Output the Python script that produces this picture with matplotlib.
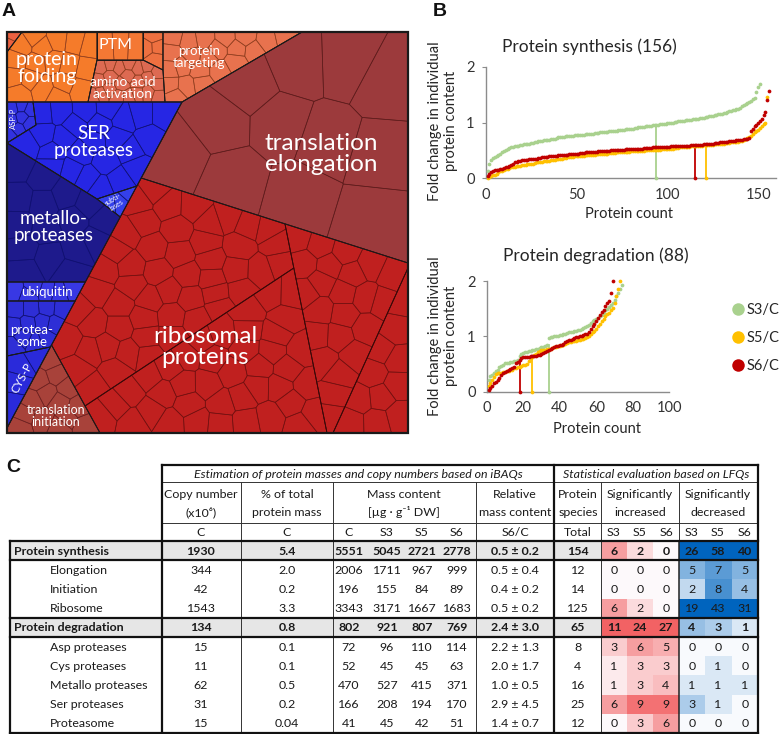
import matplotlib
matplotlib.use('Agg')
import matplotlib.pyplot as plt
from matplotlib.patches import Polygon, Rectangle
from matplotlib.collections import PolyCollection
from matplotlib.path import Path
from matplotlib.lines import Line2D

plt.rcParams['font.family'] = ['Lato', 'DejaVu Sans']

W, H = 780, 734

# ---------------- panel B data (sorted fold changes) ----------------
syn_s3 = [0.12, 0.25, 0.33, 0.36, 0.38, 0.4, 0.41, 0.43, 0.46, 0.49,
          0.51, 0.53, 0.54, 0.55, 0.56, 0.57, 0.58, 0.58, 0.59, 0.6,
          0.61, 0.61, 0.62, 0.62, 0.63, 0.63, 0.64, 0.65, 0.66, 0.67,
          0.67, 0.68, 0.68, 0.69, 0.69, 0.7, 0.71, 0.71, 0.72, 0.73,
          0.73, 0.74, 0.74, 0.75, 0.75, 0.75, 0.76, 0.76, 0.77, 0.77,
          0.77, 0.78, 0.78, 0.78, 0.79, 0.79, 0.79, 0.8, 0.8, 0.81,
          0.81, 0.81, 0.82, 0.82, 0.82, 0.83, 0.83, 0.84, 0.84, 0.85,
          0.85, 0.85, 0.86, 0.86, 0.87, 0.87, 0.88, 0.88, 0.88, 0.89,
          0.89, 0.9, 0.9, 0.91, 0.91, 0.92, 0.92, 0.93, 0.93, 0.94,
          0.94, 0.95, 0.95, 0.96, 0.96, 0.97, 0.97, 0.98, 0.98, 0.99,
          0.99, 1.0, 1.0, 1.01, 1.01, 1.02, 1.02, 1.03, 1.03, 1.04,
          1.04, 1.05, 1.05, 1.06, 1.06, 1.07, 1.07, 1.08, 1.08, 1.09,
          1.1, 1.1, 1.11, 1.12, 1.12, 1.13, 1.14, 1.15, 1.15, 1.16,
          1.17, 1.18, 1.19, 1.2, 1.21, 1.22, 1.23, 1.24, 1.25, 1.27,
          1.29, 1.31, 1.33, 1.35, 1.37, 1.39, 1.42, 1.45, 1.55, 1.64, 1.69]
syn_s5 = [0.0, 0.02, 0.04, 0.05, 0.06, 0.08, 0.1, 0.12, 0.13, 0.15,
          0.16, 0.17, 0.18, 0.19, 0.2, 0.2, 0.21, 0.22, 0.22, 0.23,
          0.23, 0.24, 0.25, 0.25, 0.26, 0.26, 0.27, 0.28, 0.28, 0.29,
          0.29, 0.3, 0.3, 0.31, 0.31, 0.32, 0.33, 0.33, 0.34, 0.34,
          0.35, 0.35, 0.36, 0.36, 0.37, 0.37, 0.38, 0.38, 0.39, 0.39,
          0.39, 0.4, 0.4, 0.4, 0.41, 0.41, 0.41, 0.42, 0.42, 0.42,
          0.43, 0.43, 0.43, 0.44, 0.44, 0.44, 0.44, 0.45, 0.45, 0.45,
          0.45, 0.46, 0.46, 0.46, 0.46, 0.47, 0.47, 0.47, 0.47, 0.48,
          0.48, 0.48, 0.48, 0.49, 0.49, 0.49, 0.49, 0.5, 0.5, 0.5,
          0.5, 0.5, 0.51, 0.51, 0.51, 0.51, 0.52, 0.52, 0.52, 0.52,
          0.53, 0.53, 0.53, 0.54, 0.54, 0.54, 0.55, 0.55, 0.55, 0.56,
          0.56, 0.56, 0.57, 0.57, 0.57, 0.57, 0.58, 0.58, 0.58, 0.59,
          0.59, 0.59, 0.6, 0.6, 0.6, 0.61, 0.61, 0.61, 0.62, 0.62,
          0.62, 0.63, 0.63, 0.63, 0.64, 0.64, 0.64, 0.65, 0.65, 0.66,
          0.67, 0.68, 0.7, 0.72, 0.74, 0.76, 0.79, 0.82, 0.85, 0.87,
          0.9, 0.93, 0.97, 1.0, 1.46]
syn_s6 = [0.03, 0.07, 0.1, 0.12, 0.14, 0.15, 0.15, 0.16, 0.17, 0.18,
          0.19, 0.2, 0.22, 0.24, 0.26, 0.28, 0.29, 0.3, 0.31, 0.32,
          0.32, 0.33, 0.33, 0.34, 0.34, 0.35, 0.35, 0.35, 0.36, 0.36,
          0.37, 0.37, 0.38, 0.38, 0.39, 0.39, 0.4, 0.4, 0.4, 0.41,
          0.41, 0.41, 0.42, 0.42, 0.42, 0.43, 0.43, 0.43, 0.44, 0.44,
          0.44, 0.45, 0.45, 0.45, 0.46, 0.46, 0.46, 0.47, 0.47, 0.47,
          0.47, 0.48, 0.48, 0.48, 0.48, 0.49, 0.49, 0.49, 0.5, 0.5,
          0.5, 0.5, 0.51, 0.51, 0.51, 0.51, 0.52, 0.52, 0.52, 0.52,
          0.52, 0.53, 0.53, 0.53, 0.53, 0.53, 0.54, 0.54, 0.54, 0.54,
          0.54, 0.55, 0.55, 0.55, 0.55, 0.55, 0.56, 0.56, 0.56, 0.56,
          0.56, 0.57, 0.57, 0.57, 0.57, 0.57, 0.58, 0.58, 0.58, 0.58,
          0.58, 0.58, 0.59, 0.59, 0.59, 0.59, 0.6, 0.6, 0.6, 0.61,
          0.61, 0.61, 0.62, 0.62, 0.62, 0.63, 0.63, 0.63, 0.64, 0.64,
          0.65, 0.65, 0.65, 0.66, 0.66, 0.67, 0.67, 0.68, 0.68, 0.69,
          0.69, 0.7, 0.7, 0.71, 0.72, 0.84, 0.88, 0.93, 0.96, 0.99,
          1.03, 1.07, 1.13, 1.19, 1.4, 1.57]
deg_s3 = [0.22, 0.28, 0.31, 0.34, 0.37, 0.4, 0.44, 0.47, 0.49, 0.51,
          0.52, 0.52, 0.53, 0.54, 0.55, 0.56, 0.58, 0.64, 0.68, 0.7,
          0.71, 0.72, 0.73, 0.74, 0.75, 0.76, 0.77, 0.78, 0.79, 0.8,
          0.81, 0.82, 0.84, 0.97, 0.98, 0.99, 1.0, 1.0, 1.01, 1.02,
          1.03, 1.04, 1.05, 1.06, 1.07, 1.08, 1.08, 1.09, 1.1, 1.11,
          1.12, 1.14, 1.15, 1.17, 1.19, 1.21, 1.24, 1.27, 1.29, 1.31,
          1.33, 1.36, 1.39, 1.43, 1.47, 1.5, 1.53, 1.57, 1.61, 1.66,
          1.72, 1.78, 1.86, 1.93]
deg_s5 = [0.1, 0.15, 0.21, 0.27, 0.32, 0.33, 0.33, 0.34, 0.35, 0.36,
          0.37, 0.38, 0.39, 0.4, 0.42, 0.43, 0.44, 0.45, 0.46, 0.48,
          0.49, 0.5, 0.55, 0.6, 0.63, 0.66, 0.69, 0.71, 0.73, 0.75,
          0.76, 0.76, 0.77, 0.77, 0.78, 0.79, 0.8, 0.81, 0.82, 0.83,
          0.84, 0.85, 0.86, 0.88, 0.89, 0.9, 0.91, 0.91, 0.92, 0.93,
          0.94, 0.95, 0.96, 0.97, 0.99, 1.01, 1.04, 1.07, 1.1, 1.14,
          1.18, 1.23, 1.27, 1.32, 1.36, 1.4, 1.43, 1.47, 1.52, 1.6,
          1.72, 1.86, 2.0]
deg_s6 = [0.03, 0.07, 0.11, 0.15, 0.18, 0.21, 0.25, 0.3, 0.33, 0.36,
          0.37, 0.39, 0.41, 0.43, 0.45, 0.51, 0.54, 0.57, 0.6, 0.62,
          0.62, 0.63, 0.63, 0.64, 0.64, 0.65, 0.65, 0.66, 0.67, 0.69,
          0.7, 0.72, 0.74, 0.76, 0.78, 0.79, 0.8, 0.82, 0.83, 0.84,
          0.85, 0.87, 0.89, 0.91, 0.93, 0.94, 0.95, 0.97, 0.98, 0.99,
          1.0, 1.01, 1.03, 1.04, 1.05, 1.08, 1.14, 1.18, 1.22, 1.27,
          1.33, 1.39, 1.44, 1.48, 1.54, 1.6, 1.64, 1.78, 2.0]
syn_cut_x = [94, 121, 115]
syn_cut_y = [0.96, 0.59, 0.59]
deg_cut_x = [34, 25, 18]
deg_cut_y = [0.85, 0.62, 0.55]
series_names = ['S3/C', 'S5/C', 'S6/C']
series_colors = ['#A9D18E', '#FFC000', '#C00000']

# ---------------- panel C data ----------------
row_names = ['Protein synthesis', 'Elongation', 'Initiation', 'Ribosome',
             'Protein degradation', 'Asp proteases', 'Cys proteases',
             'Metallo proteases', 'Ser proteases', 'Proteasome']
row_bold = [True, False, False, False, True, False, False, False, False, False]
copy_number = [1930, 344, 42, 1543, 134, 15, 11, 62, 31, 15]
pct_mass = ['5.4', '2.0', '0.2', '3.3', '0.8', '0.1', '0.1', '0.5', '0.2', '0.04']
mass_c = [5551, 2006, 196, 3343, 802, 72, 52, 470, 166, 41]
mass_s3 = [5045, 1711, 155, 3171, 921, 96, 45, 527, 208, 45]
mass_s5 = [2721, 967, 84, 1667, 807, 110, 45, 415, 194, 42]
mass_s6 = [2778, 999, 89, 1683, 769, 114, 63, 371, 170, 51]
rel_mass = ['0.5 ± 0.2', '0.5 ± 0.4', '0.4 ± 0.2', '0.5 ± 0.2', '2.4 ± 3.0',
            '2.2 ± 1.3', '2.0 ± 1.7', '1.0 ± 0.5', '2.9 ± 4.5', '1.4 ± 0.7']
species_total = [154, 12, 14, 125, 65, 8, 4, 16, 25, 12]
sig_inc = [[6, 2, 0], [0, 0, 0], [0, 0, 0], [6, 2, 0], [11, 24, 27],
           [3, 6, 5], [1, 3, 3], [1, 3, 4], [6, 9, 9], [0, 3, 6]]
sig_dec = [[26, 58, 40], [5, 7, 5], [2, 8, 4], [19, 43, 31], [4, 3, 1],
           [0, 0, 0], [0, 1, 0], [1, 1, 1], [3, 1, 0], [0, 0, 0]]

# ---------------- panel A: regions of the Voronoi treemap ----------------
def bx(y):
    # boundary between degradation (blue) and synthesis (red)
    return 182 - 0.537 * (y - 102)

reg_name = ['corner', 'folding', 'PTM', 'ptm2', 'aa', 'targeting', 'elongation',
            'ribo_a', 'ribo_b', 'ribo_c', 'ribo_d', 'initiation',
            'asp', 'ser', 'subtilases', 'metallo', 'ubiquitin', 'proteasome', 'cys']
reg_poly = [
    [(7, 32), (22, 32), (7, 52)],
    [(22, 32), (97, 32), (97, 60), (88, 102), (7, 102), (7, 52)],
    [(97, 32), (143, 32), (143, 60), (97, 60)],
    [(143, 32), (163, 32), (163, 70), (143, 60)],
    [(97, 60), (143, 60), (163, 70), (165, 102), (88, 102)],
    [(163, 32), (302, 32), (182, 102), (165, 102), (163, 70)],
    [(182, 102), (302, 32), (408, 32), (408, 263), (bx(178), 178)],
    [(bx(178), 178), (285, 224), (293.8, 268), (85, 406), (bx(345), 345)],
    [(85, 406), (293.8, 268), (327, 433), (100, 433)],
    [(285, 224), (408, 263), (408, 268), (333, 433), (327, 433)],
    [(408, 268), (408, 433), (333, 433)],
    [(bx(345), 345), (100, 433), (7, 433), (7, 428)],
    [(7, 102), (33, 102), (36, 125), (7, 143)],
    [(33, 102), (182, 102), (bx(186), 186), (97, 199), (7, 143), (36, 125)],
    [(97, 199), (bx(186), 186), (bx(217), 217)],
    [(7, 143), (97, 199), (bx(217), 217), (bx(282), 282), (7, 282)],
    [(7, 282), (bx(282), 282), (bx(301), 301), (7, 301)],
    [(7, 301), (bx(301), 301), (bx(347), 347), (7, 356)],
    [(7, 356), (bx(347), 347), (7, 428)],
]
reg_color = ['#EB6140', '#F57B2A', '#F47834', '#EE7040', '#DD6A52', '#E8724E', '#9C3A3C',
             '#C0201F', '#C0201F', '#C0201F', '#C0201F', '#A8423A',
             '#3232E0', '#2626E4', '#3440EA', '#1E1A8C', '#3838E4', '#2E2ED6', '#2A2ADA']
reg_edge = ['#8C3C1E'] * 6 + ['#5A1A1A'] + ['#6E1010'] * 4 + ['#6A2020'] + ['#101070'] * 7
reg_cells = [2, 18, 3, 4, 22, 22, 12, None, None, None, None, 14, 8, 25, 3, 16, 6, 12, 4]
ribosome_cells = species_total[3]

tm_labels = [('protein\nfolding', 47, 68, 14, 0),
             ('PTM', 116, 45, 11.5, 0),
             ('amino acid\nactivation', 123, 88, 10, 0),
             ('protein\ntargeting', 199, 57, 9.5, 0),
             ('translation\nelongation', 321, 154, 17.5, 0),
             ('SER\nproteases', 94, 142, 13.5, 0),
             ('metallo-\nproteases', 54, 227, 13.5, 0),
             ('subti-\nlases', 115, 202, 5, 32),
             ('ASP-P', 13, 118, 5.5, 90),
             ('ubiquitin', 47, 292, 9.5, 0),
             ('protea-\nsome', 32, 336, 9.5, 0),
             ('CYS-P', 22, 378, 8.5, 62),
             ('translation\ninitiation', 56, 416, 9, 0),
             ('ribosomal\nproteins', 205, 347, 17.5, 0)]


def area(poly):
    s = 0.0
    for i in range(len(poly)):
        x0, y0 = poly[i]
        x1, y1 = poly[(i + 1) % len(poly)]
        s += x0 * y1 - x1 * y0
    return s / 2


def centroid(poly):
    a = area(poly)
    if abs(a) < 1e-9:
        return (sum(p[0] for p in poly) / len(poly), sum(p[1] for p in poly) / len(poly))
    cx = cy = 0.0
    for i in range(len(poly)):
        x0, y0 = poly[i]
        x1, y1 = poly[(i + 1) % len(poly)]
        c = x0 * y1 - x1 * y0
        cx += (x0 + x1) * c
        cy += (y0 + y1) * c
    return (cx / (6 * a), cy / (6 * a))


def clip_half(poly, a, b, c):
    out = []
    n = len(poly)
    for i in range(n):
        P = poly[i]
        Q = poly[(i + 1) % n]
        fp = a * P[0] + b * P[1] - c
        fq = a * Q[0] + b * Q[1] - c
        if fp <= 0:
            out.append(P)
        if fp * fq < 0:
            t = fp / (fp - fq)
            out.append((P[0] + t * (Q[0] - P[0]), P[1] + t * (Q[1] - P[1])))
    return out


def halton(i, b):
    f, r = 1.0, 0.0
    while i > 0:
        f /= b
        r += f * (i % b)
        i //= b
    return r


def voronoi_cells(poly, n):
    path = Path(poly)
    xs = [p[0] for p in poly]
    ys = [p[1] for p in poly]
    x0, y0, w, h = min(xs), min(ys), max(xs) - min(xs), max(ys) - min(ys)
    seeds = []
    i = 1
    while len(seeds) < n and i < 20000:
        p = (x0 + halton(i, 2) * w, y0 + halton(i, 3) * h)
        if path.contains_point(p):
            seeds.append(p)
        i += 1
    cells = []
    for it in range(4):
        cells = []
        for k, s in enumerate(seeds):
            cell = list(poly)
            for j, q in enumerate(seeds):
                if j == k or not cell:
                    continue
                a = 2 * (q[0] - s[0])
                b = 2 * (q[1] - s[1])
                c = q[0] ** 2 + q[1] ** 2 - s[0] ** 2 - s[1] ** 2
                cell = clip_half(cell, a, b, c)
            cells.append(cell)
        seeds = [centroid(c) if len(c) > 2 else s for c, s in zip(cells, seeds)]
    return [c for c in cells if len(c) > 2]


fig = plt.figure(figsize=(W / 100, H / 100), dpi=100)
ax_t = fig.add_axes([0, 0, 1, 1])
ax_t.set_xlim(0, W)
ax_t.set_ylim(H, 0)
ax_t.axis('off')

# ---------------- panel A ----------------
ax_a = fig.add_axes([7 / W, 1 - 433 / H, 401 / W, 401 / H])
ax_a.set_xlim(7, 408)
ax_a.set_ylim(433, 32)
ax_a.axis('off')

ribo_idx = [i for i, n in enumerate(reg_name) if n.startswith('ribo')]
ribo_area = sum(abs(area(reg_poly[i])) for i in ribo_idx)
for i in ribo_idx:
    reg_cells[i] = max(3, round(ribosome_cells * abs(area(reg_poly[i])) / ribo_area))

for poly, fc, ec, n in zip(reg_poly, reg_color, reg_edge, reg_cells):
    ax_a.add_patch(Polygon(poly, closed=True, fc=fc, ec='none'))
    cells = voronoi_cells(poly, n)
    ax_a.add_collection(PolyCollection(cells, facecolors='none', edgecolors=ec,
                                       linewidths=0.5, alpha=0.85))
for name, poly in zip(reg_name, reg_poly):
    if name.startswith('ribo'):
        ax_a.add_patch(Polygon(poly, closed=True, fill=False, ec='#3a0808', lw=0.6))
for name, poly in zip(reg_name, reg_poly):
    if not name.startswith('ribo'):
        ax_a.add_patch(Polygon(poly, closed=True, fill=False, ec='#1a1a1a', lw=0.7))
ax_a.add_patch(Rectangle((7, 32), 401, 401, fill=False, ec='#1a1a1a', lw=1.6, clip_on=False))

for txt, x, y, fs, rot in tm_labels:
    ax_a.text(x, y, txt, color='white', fontsize=fs, ha='center', va='center',
              rotation=rot, linespacing=1.0, rotation_mode='anchor')

# panel letters
for letter, x, y in [('A', 9, 12), ('B', 440, 11), ('C', 13, 467)]:
    ax_t.text(x, y, letter, fontsize=14, fontweight='bold', family='Liberation Sans',
              ha='center', va='center', color='#111111')

# ---------------- panel B ----------------
def style_axes(ax, xmax, xticks):
    ax.set_xlim(0, xmax)
    ax.set_ylim(0, 2)
    ax.set_xticks(xticks)
    ax.set_yticks([0, 1, 2])
    for side in ['top', 'right']:
        ax.spines[side].set_visible(False)
    for side in ['left', 'bottom']:
        ax.spines[side].set_color('#8C8C8C')
        ax.spines[side].set_linewidth(1.0)
    ax.tick_params(axis='x', length=0, pad=7, labelsize=10.5, labelcolor='#333333')
    ax.tick_params(axis='y', length=3, pad=5, color='#8C8C8C', labelsize=10.5,
                   labelcolor='#333333')
    ax.patch.set_alpha(0)


ax1 = fig.add_axes([485.7 / W, 1 - 178 / H, 290.7 / W, 111 / H])
style_axes(ax1, 160, [0, 50, 100, 150])
ax2 = fig.add_axes([486.7 / W, 1 - 391.7 / H, 182.6 / W, 110.7 / H])
style_axes(ax2, 100, [0, 20, 40, 60, 80, 100])

for ax, data, cx, cy in [(ax1, [syn_s3, syn_s5, syn_s6], syn_cut_x, syn_cut_y),
                         (ax2, [deg_s3, deg_s5, deg_s6], deg_cut_x, deg_cut_y)]:
    for vals, col, x, y in zip(data, series_colors, cx, cy):
        ax.plot(range(1, len(vals) + 1), vals, 'o', ms=2.7, color=col, mec='none',
                clip_on=False, zorder=3)
        ax.plot([x, x], [0, y], color=col, lw=1.3, zorder=2, clip_on=False)
        ax.plot([x], [0], 'o', ms=2.7, color=col, mec='none', clip_on=False, zorder=3)

ax_t.text(589, 47, 'Protein synthesis (156)', fontsize=12.5, ha='center', va='center',
          color='#262626')
ax_t.text(596, 256, 'Protein degradation (88)', fontsize=12.5, ha='center', va='center',
          color='#262626')
for ycen in [121, 336]:
    ax_t.text(443, ycen, 'Fold change in individual\nprotein content', rotation=90,
              fontsize=10.5, ha='center', va='center', linespacing=1.15, color='#262626')
ax_t.text(629, 214, 'Protein count', fontsize=10.5, ha='center', va='center', color='#262626')
ax_t.text(597, 429, 'Protein count', fontsize=10.5, ha='center', va='center', color='#262626')

handles = [Line2D([], [], marker='o', ls='', color=c, mec='none', ms=9) for c in series_colors]
fig.legend(handles, series_names, loc='upper left', bbox_to_anchor=(731 / W, 1 - 303 / H),
           frameon=False, fontsize=10.5, handletextpad=0.05, labelspacing=0.95,
           borderaxespad=0, borderpad=0, handlelength=1.0, labelcolor='#262626')

# ---------------- panel C: table ----------------
cx_ = [10, 162, 241, 333, 476, 554, 601, 679, 758]
hy = [465, 482, 523, 541]
rh = 19.2
nrow = len(row_names)
ybot = hy[3] + rh * nrow
tfs = 8.9
tcol = '#1a1a1a'


def mix(c0, c1, t):
    return tuple((a + (b - a) * t) / 255 for a, b in zip(c0, c1))


def inc_color(n):
    return mix((253, 249, 251), (242, 98, 100), min(n / 10, 1))


def dec_color(n):
    return mix((248, 250, 253), (0, 100, 190), min(n / 12, 1) ** 0.85)


wi = (cx_[7] - cx_[6]) / 3
wd = (cx_[8] - cx_[7]) / 3
for i in range(nrow):
    y = hy[3] + i * rh
    if row_bold[i]:
        ax_t.add_patch(Rectangle((cx_[0], y), cx_[6] - cx_[0], rh, fc='#E6E6E6', ec='none'))
    for j in range(3):
        ax_t.add_patch(Rectangle((cx_[6] + j * wi, y), wi, rh, fc=inc_color(sig_inc[i][j]), ec='none'))
        ax_t.add_patch(Rectangle((cx_[7] + j * wd, y), wd, rh, fc=dec_color(sig_dec[i][j]), ec='none'))

# header texts
ax_t.text((cx_[1] + cx_[5]) / 2, 474, 'Estimation of protein masses and copy numbers based on iBAQs',
          fontsize=tfs, style='italic', ha='center', va='center', color=tcol)
ax_t.text((cx_[5] + cx_[8]) / 2, 474, 'Statistical evaluation based on LFQs',
          fontsize=tfs, style='italic', ha='center', va='center', color=tcol)
head2 = [('Copy number', '(x10⁶)', 201), ('% of total', 'protein mass', 287),
         ('Mass content', '[µg · g⁻¹ DW]', 404), ('Relative', 'mass content', 515),
         ('Protein', 'species', 578), ('Significantly', 'increased', 640),
         ('Significantly', 'decreased', 718)]
for t1, t2, x in head2:
    ax_t.text(x, 494, t1, fontsize=tfs, ha='center', va='center', color=tcol)
    ax_t.text(x, 512, t2, fontsize=tfs, ha='center', va='center', color=tcol)
head3 = [('C', 201), ('C', 287), ('C', 349), ('S3', 387), ('S5', 422), ('S6', 457),
         ('S6/C', 515), ('Total', 578), ('S3', 614), ('S5', 640), ('S6', 666),
         ('S3', 692), ('S5', 718), ('S6', 745)]
for t, x in head3:
    ax_t.text(x, 532.5, t, fontsize=tfs, ha='center', va='center', color=tcol)

mass_x = [349, 387, 422, 457]
inc_x = [614, 640, 666]
dec_x = [692, 718, 745]
for i in range(nrow):
    yc = hy[3] + (i + 0.5) * rh + 0.5
    fw = 'bold' if row_bold[i] else 'normal'
    kw = dict(fontsize=tfs, va='center', color=tcol, fontweight=fw)
    ax_t.text(14 if row_bold[i] else 50, yc, row_names[i], ha='left', **kw)
    ax_t.text(201, yc, str(copy_number[i]), ha='center', **kw)
    ax_t.text(287, yc, pct_mass[i], ha='center', **kw)
    for x, v in zip(mass_x, [mass_c[i], mass_s3[i], mass_s5[i], mass_s6[i]]):
        ax_t.text(x, yc, str(v), ha='center', **kw)
    ax_t.text(515, yc, rel_mass[i], ha='center', **kw)
    ax_t.text(578, yc, str(species_total[i]), ha='center', **kw)
    for x, v in zip(inc_x, sig_inc[i]):
        ax_t.text(x, yc, str(v), ha='center', **kw)
    for x, v in zip(dec_x, sig_dec[i]):
        ax_t.text(x, yc, str(v), ha='center', **kw)

thick = dict(color='#111111', lw=1.6, solid_capstyle='projecting')
thin = dict(color='#333333', lw=0.7)
# thin grid
for y in [hy[1], hy[2]]:
    ax_t.plot([cx_[1], cx_[8]], [y, y], **thin)
for x in [cx_[2], cx_[3], cx_[4], cx_[6]]:
    ax_t.plot([x, x], [hy[1], ybot], **thin)
ax_t.plot([cx_[7], cx_[7]], [hy[1], hy[3]], **thin)
ax_t.plot([cx_[7], cx_[7]], [hy[3], ybot], color='#222222', lw=1.1)
# thick borders
ax_t.plot([cx_[1], cx_[8]], [hy[0], hy[0]], **thick)
ax_t.plot([cx_[1], cx_[1]], [hy[0], ybot], **thick)
ax_t.plot([cx_[5], cx_[5]], [hy[0], ybot], **thick)
ax_t.plot([cx_[8], cx_[8]], [hy[0], ybot], **thick)
ax_t.plot([cx_[0], cx_[0]], [hy[3], ybot], **thick)
for i in [0, 1, 4, 5]:
    y = hy[3] + i * rh
    ax_t.plot([cx_[0], cx_[8]], [y, y], **thick)
ax_t.plot([cx_[0], cx_[8]], [ybot, ybot], **thick)

fig.savefig('out.png', dpi=100)
